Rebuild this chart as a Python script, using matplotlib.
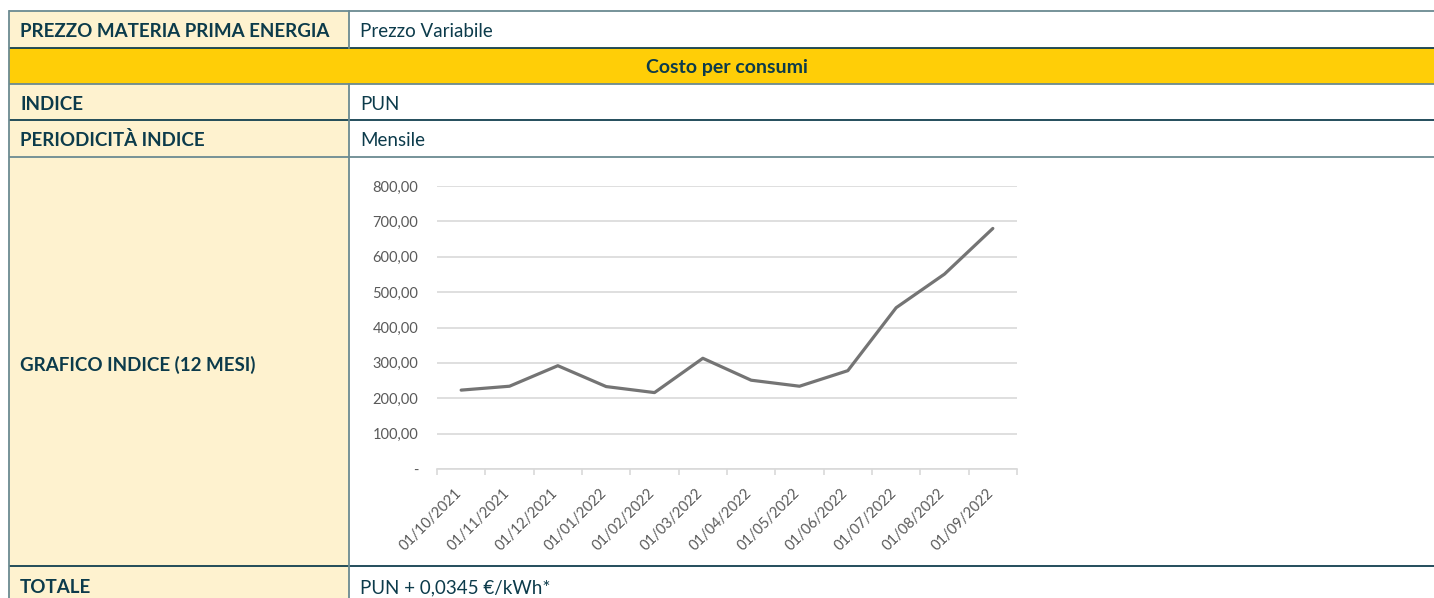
"""
Scheda offerta: tabella con grafico dell'indice PUN (12 mesi).
"""
import matplotlib
matplotlib.use("Agg")
import matplotlib.pyplot as plt
import matplotlib.patches as patches
from matplotlib.ticker import FixedLocator, FuncFormatter
from matplotlib.transforms import ScaledTranslation

# --- data ---
months = ["01/10/2021", "01/11/2021", "01/12/2021", "01/01/2022",
          "01/02/2022", "01/03/2022", "01/04/2022", "01/05/2022",
          "01/06/2022", "01/07/2022", "01/08/2022", "01/09/2022"]
pun = [223, 234, 292, 233, 216, 313, 251, 234, 278, 456, 551, 680]
y_ticks = [0, 100, 200, 300, 400, 500, 600, 700, 800]

row_labels = ["PREZZO MATERIA PRIMA ENERGIA", "INDICE", "PERIODICITÀ INDICE",
              "GRAFICO INDICE (12 MESI)", "TOTALE"]
row_values = ["Prezzo Variabile", "PUN", "Mensile", "", "PUN + 0,0345 €/kWh*"]
section_title = "Costo per consumi"

W, H = 1434, 598
TEXT = "#0c3b4b"
DARK_LINE = "#123f4f"
GREY_LINE = "#6b8a91"
CREAM = "#fef2cf"
YELLOW = "#ffce07"

fig = plt.figure(figsize=(W / 100, H / 100), dpi=100)
fig.patch.set_facecolor("white")

# --- table (pixel coordinates) ---
tb = fig.add_axes([0, 0, 1, 1])
tb.set_xlim(0, W)
tb.set_ylim(H, 0)
tb.axis("off")

x_left, x_div, x_right = 9, 349, W + 5
label_rows = [(11, 48), (84, 120), (120, 157), (157, 566), (566, H + 5)]
baselines = [37, 110, 146, 371, 593]

# cream label column
for y0, y1 in label_rows:
    tb.add_patch(patches.Rectangle((x_left, y0), x_div - x_left, y1 - y0,
                                   facecolor=CREAM, edgecolor="none"))
# yellow section row
tb.add_patch(patches.Rectangle((x_left, 48), x_right - x_left, 36,
                               facecolor=YELLOW, edgecolor="none"))

# horizontal lines
for y, c in [(11, GREY_LINE), (48, DARK_LINE), (84, GREY_LINE),
             (120, DARK_LINE), (157, GREY_LINE), (566, DARK_LINE)]:
    tb.plot([x_left, x_right], [y, y], color=c, lw=1.3, solid_capstyle="butt")
# vertical lines
tb.plot([x_left, x_left], [11, H], color=GREY_LINE, lw=1.3)
for y0, y1 in [(11, 48), (84, H)]:
    tb.plot([x_div, x_div], [y0, y1], color=GREY_LINE, lw=1.3)

fam = ["Lato", "DejaVu Sans"]
for yb, lab, val in zip(baselines, row_labels, row_values):
    tb.text(20, yb, lab, ha="left", va="baseline", fontsize=13.5,
            fontweight="bold", color=TEXT, family=fam)
    if val:
        tb.text(360, yb, val, ha="left", va="baseline", fontsize=13.5,
                color=TEXT, family=fam)
tb.text(727, 73, section_title, ha="center", va="baseline", fontsize=14,
        fontweight="bold", color=TEXT, family=fam)

# --- chart ---
ax_l, ax_r, ax_t, ax_b = 437, 1017, 186, 469
ax = fig.add_axes([ax_l / W, (H - ax_b) / H, (ax_r - ax_l) / W, (ax_b - ax_t) / H])
ax.patch.set_alpha(0)
x = list(range(len(months)))
ax.plot(x, pun, color="#747474", lw=2.3, solid_capstyle="round", zorder=3)
ax.set_xlim(-0.5, len(months) - 0.5)
ax.set_ylim(0, 800)

for s in ["top", "right", "left"]:
    ax.spines[s].set_visible(False)
ax.spines["bottom"].set_color("#d9d9d9")
ax.spines["bottom"].set_linewidth(1.2)

ax.yaxis.set_major_locator(FixedLocator(y_ticks))
ax.yaxis.set_major_formatter(FuncFormatter(
    lambda v, p: "-" if v == 0 else f"{v:.2f}".replace(".", ",")))
ax.grid(axis="y", color="#d9d9d9", lw=1.2)
ax.tick_params(axis="y", length=0, pad=13.5, labelsize=10.5, labelcolor="#595959")
for t in ax.get_yticklabels():
    t.set_family(fam)

ax.set_xticks(x)
ax.set_xticklabels(months, rotation=45, ha="right", va="top",
                   fontsize=10.5, color="#595959", family=fam)
ax.tick_params(axis="x", which="major", length=0, pad=12)
shift = ScaledTranslation(3 / 100, 0, fig.dpi_scale_trans)
for t in ax.get_xticklabels():
    t.set_transform(t.get_transform() + shift)
ax.set_xticks([i - 0.5 for i in range(len(months) + 1)], minor=True)
ax.tick_params(axis="x", which="minor", length=4, color="#d9d9d9", width=1.2)

fig.savefig("out.png", dpi=100, facecolor="white")
